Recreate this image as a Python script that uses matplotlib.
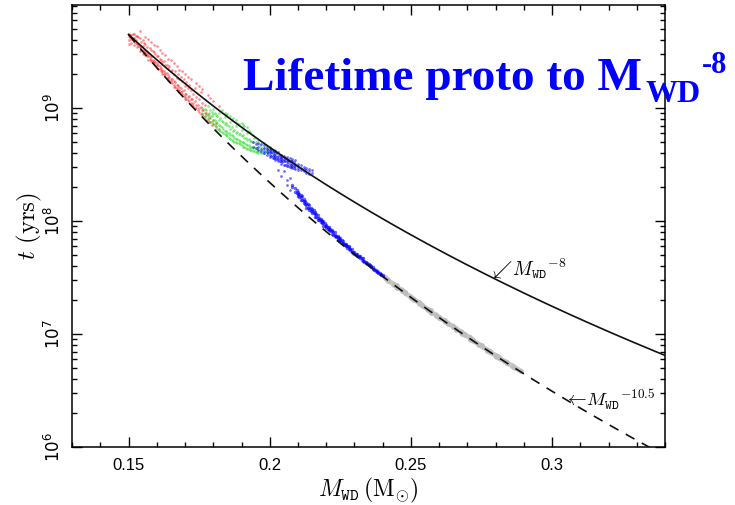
import matplotlib
matplotlib.use('Agg')
import matplotlib.pyplot as plt
from matplotlib.ticker import FixedLocator, LogLocator, NullFormatter
import numpy as np

# scatter of simulated proto-WD lifetimes: (mass, [log10 t ...])
red_cols = [
    (0.150, [9.64, 9.60, 9.66, 9.57]), (0.151, [9.61, 9.58, 9.65]),
    (0.152, [9.59, 9.62, 9.66, 9.56]), (0.153, [9.57, 9.54, 9.64]),
    (0.154, [9.54, 9.55, 9.62, 9.68, 9.51]), (0.155, [9.52, 9.48, 9.60, 9.55]),
    (0.156, [9.49, 9.50, 9.57, 9.63, 9.47]), (0.157, [9.46, 9.48, 9.61, 9.43]),
    (0.158, [9.43, 9.45, 9.52, 9.59, 9.42]), (0.159, [9.40, 9.42, 9.50, 9.56]),
    (0.160, [9.38, 9.40, 9.46, 9.55, 9.36]), (0.161, [9.35, 9.37, 9.44, 9.52]),
    (0.162, [9.32, 9.34, 9.41, 9.49, 9.30]), (0.163, [9.29, 9.31, 9.38, 9.47]),
    (0.164, [9.27, 9.29, 9.36, 9.44, 9.25]), (0.165, [9.24, 9.26, 9.33, 9.43]),
    (0.166, [9.21, 9.24, 9.30, 9.40, 9.19]), (0.167, [9.18, 9.21, 9.27, 9.37]),
    (0.168, [9.16, 9.19, 9.26, 9.34, 9.14]), (0.169, [9.13, 9.15, 9.24, 9.33]),
    (0.170, [9.10, 9.13, 9.20, 9.30, 9.08]), (0.171, [9.07, 9.10, 9.18, 9.28]),
    (0.172, [9.05, 9.08, 9.16, 9.26]), (0.173, [9.02, 9.05, 9.13]),
    (0.174, [9.00, 9.03, 9.10, 9.22]), (0.175, [8.97, 9.00, 9.08, 9.20]),
    (0.176, [8.95, 8.98, 9.05, 9.17]), (0.177, [8.92, 8.96, 9.03]),
    (0.178, [8.90, 8.94, 9.12]), (0.179, [8.88, 8.91, 9.09]),
    (0.180, [8.86, 8.90, 9.06]), (0.181, [8.84, 8.87]), (0.182, [8.82, 9.02]),
    (0.1505, [9.63, 9.65]), (0.1515, [9.60, 9.62, 9.66]),
    (0.1525, [9.58, 9.60, 9.64]), (0.1535, [9.55, 9.57, 9.63]),
    (0.1545, [9.52, 9.54, 9.59]), (0.1555, [9.49, 9.51, 9.58]),
    (0.1565, [9.46, 9.49, 9.54]), (0.1575, [9.44, 9.46, 9.53]),
    (0.1585, [9.41, 9.43, 9.51]), (0.1595, [9.38, 9.41, 9.48]),
    (0.1605, [9.35, 9.38, 9.46]), (0.1615, [9.33, 9.36, 9.43]),
    (0.1625, [9.30, 9.33, 9.42]), (0.1635, [9.27, 9.31, 9.38]),
    (0.1645, [9.24, 9.28, 9.37]), (0.1655, [9.22, 9.26, 9.34]),
    (0.1665, [9.19, 9.23, 9.33]), (0.1675, [9.16, 9.21, 9.30]),
    (0.1685, [9.14, 9.18, 9.28]), (0.1695, [9.11, 9.16, 9.26]),
    (0.1705, [9.08, 9.13, 9.23]), (0.1715, [9.06, 9.11, 9.21]),
    (0.1725, [9.03, 9.08]), (0.1735, [9.00, 9.06, 9.18]),
    (0.1745, [8.98, 9.03]), (0.1755, [8.95, 9.01, 9.14]),
    (0.1765, [8.93, 8.98]), (0.1775, [8.90, 8.96]),
    (0.1785, [8.88]), (0.1795, [8.85]),
]

green_cols = [
    (0.176, [8.96, 9.00]), (0.177, [8.93, 8.99]), (0.178, [8.91, 8.95, 9.02]),
    (0.179, [8.88, 8.93, 8.98]), (0.180, [8.86, 8.90, 8.95, 8.99]),
    (0.181, [8.83, 8.88, 8.94]), (0.182, [8.81, 8.85, 8.90, 8.96]),
    (0.183, [8.79, 8.83, 8.89, 8.98]), (0.184, [8.77, 8.80, 8.86, 8.92, 8.96]),
    (0.185, [8.75, 8.78, 8.85, 8.95]), (0.186, [8.73, 8.76, 8.82, 8.88, 8.93]),
    (0.187, [8.71, 8.75, 8.80, 8.91]), (0.188, [8.70, 8.73, 8.78, 8.84, 8.90]),
    (0.189, [8.69, 8.72, 8.77, 8.86]), (0.190, [8.67, 8.70, 8.75, 8.81, 8.87]),
    (0.191, [8.66, 8.69, 8.74, 8.84]), (0.192, [8.64, 8.67, 8.72, 8.78, 8.83]),
    (0.193, [8.63, 8.66, 8.71, 8.79]), (0.194, [8.62, 8.65, 8.70, 8.76]),
    (0.195, [8.61, 8.64, 8.70]), (0.196, [8.60, 8.63, 8.68, 8.72]),
    (0.197, [8.60, 8.66]), (0.198, [8.60, 8.65, 8.69]),
    (0.199, [8.61, 8.64]), (0.200, [8.61, 8.66]), (0.202, [8.59, 8.63]),
    (0.1775, [8.94, 8.98]), (0.1785, [8.91, 8.96]), (0.1795, [8.88, 8.93, 8.97]),
    (0.1805, [8.85, 8.90, 8.96]), (0.1815, [8.82, 8.87, 8.93]),
    (0.1825, [8.80, 8.84, 8.91]), (0.1835, [8.78, 8.82, 8.88]),
    (0.1845, [8.76, 8.80, 8.87, 8.94]), (0.1855, [8.74, 8.78, 8.84]),
    (0.1865, [8.72, 8.76, 8.83, 8.90]), (0.1875, [8.70, 8.74, 8.81]),
    (0.1885, [8.69, 8.73, 8.79, 8.87]), (0.1895, [8.68, 8.71, 8.77]),
    (0.1905, [8.66, 8.70, 8.76, 8.85]), (0.1915, [8.65, 8.68, 8.74]),
    (0.1925, [8.64, 8.67, 8.73, 8.80]), (0.1935, [8.63, 8.66, 8.71]),
    (0.1945, [8.62, 8.66, 8.74]), (0.1955, [8.61, 8.65]),
    (0.1965, [8.61, 8.67]), (0.1975, [8.60, 8.64]), (0.1985, [8.62, 8.67]),
    (0.2005, [8.60, 8.64]), (0.201, [8.62]),
]

blue_upper_cols = [
    (0.194, [8.66, 8.70]), (0.195, [8.65, 8.68]), (0.196, [8.63, 8.66, 8.69]),
    (0.197, [8.62, 8.64, 8.68]), (0.198, [8.60, 8.62, 8.65, 8.67]),
    (0.199, [8.59, 8.61, 8.64, 8.66]), (0.200, [8.57, 8.59, 8.61, 8.63, 8.65]),
    (0.201, [8.56, 8.58, 8.60, 8.63]), (0.202, [8.54, 8.56, 8.58, 8.60, 8.62]),
    (0.203, [8.53, 8.55, 8.58, 8.61, 8.45]), (0.204, [8.51, 8.53, 8.55, 8.57, 8.59, 8.40]),
    (0.205, [8.50, 8.53, 8.55, 8.58, 8.44]), (0.206, [8.49, 8.51, 8.53, 8.55, 8.57, 8.36, 8.32]),
    (0.207, [8.48, 8.51, 8.53, 8.56, 8.38, 8.28]), (0.208, [8.47, 8.49, 8.51, 8.53, 8.55]),
    (0.209, [8.46, 8.49, 8.51, 8.54]), (0.210, [8.45, 8.47, 8.49, 8.51]),
    (0.211, [8.45, 8.47, 8.50]), (0.212, [8.44, 8.46, 8.48]),
    (0.213, [8.43, 8.45, 8.47]), (0.214, [8.42, 8.44, 8.46]), (0.215, [8.43, 8.45]),
    (0.1995, [8.60, 8.63]), (0.2005, [8.58, 8.61, 8.64]), (0.2015, [8.56, 8.59, 8.62]),
    (0.2025, [8.55, 8.57, 8.60]), (0.2035, [8.53, 8.56, 8.59]),
    (0.2045, [8.52, 8.54, 8.57]), (0.2055, [8.50, 8.53, 8.56]),
    (0.2065, [8.49, 8.52, 8.54]), (0.2075, [8.48, 8.50, 8.53]),
    (0.2085, [8.47, 8.49, 8.52]),
]

blue_lower_cols = [
    (0.208, [8.30, 8.32]), (0.209, [8.26, 8.29]), (0.210, [8.22, 8.24, 8.26]),
    (0.211, [8.19, 8.21, 8.23]), (0.212, [8.16, 8.18, 8.20]),
    (0.213, [8.12, 8.14, 8.16]), (0.214, [8.10, 8.12, 8.14]),
    (0.215, [8.07, 8.09, 8.11]), (0.216, [8.04, 8.06, 8.08]),
    (0.217, [8.01, 8.03, 8.05]), (0.218, [7.99, 8.01, 8.02]), (0.219, [7.96, 7.98, 8.00]),
    (0.220, [7.94, 7.96, 7.97]), (0.221, [7.92, 7.93, 7.95]), (0.222, [7.89, 7.91, 7.92]),
    (0.223, [7.87, 7.88, 7.90]), (0.224, [7.84, 7.86, 7.87]), (0.225, [7.82, 7.83, 7.85]),
    (0.226, [7.80, 7.81, 7.82]), (0.227, [7.78, 7.79, 7.80]), (0.228, [7.75, 7.77, 7.78]),
    (0.229, [7.73, 7.75]), (0.230, [7.71, 7.73]), (0.231, [7.69, 7.71]),
    (0.232, [7.67, 7.69]), (0.233, [7.65, 7.67]), (0.234, [7.63, 7.64]),
    (0.235, [7.61, 7.62]), (0.236, [7.59, 7.60]), (0.237, [7.57, 7.58]),
    (0.238, [7.55, 7.56]), (0.239, [7.53, 7.54]), (0.240, [7.51, 7.52]),
    (0.2095, [8.25, 8.28]), (0.2105, [8.21, 8.24]), (0.2115, [8.19, 8.22]),
    (0.2125, [8.15, 8.18]), (0.2135, [8.12, 8.15]), (0.2145, [8.09, 8.12]),
    (0.2155, [8.07, 8.10]), (0.2165, [8.04, 8.06]), (0.2175, [8.01, 8.03]),
    (0.2185, [7.98, 8.00]), (0.2195, [7.96, 7.98]), (0.2205, [7.93, 7.95]),
    (0.2215, [7.91, 7.93]), (0.2225, [7.88, 7.90]), (0.2235, [7.86, 7.87]),
    (0.2245, [7.83, 7.85]), (0.2255, [7.81, 7.83]), (0.2265, [7.79, 7.80]),
    (0.2275, [7.76, 7.78]), (0.2285, [7.74, 7.75]), (0.2295, [7.72, 7.73]),
    (0.2305, [7.70, 7.71]), (0.2315, [7.68, 7.69]), (0.2325, [7.66, 7.67]),
    (0.2335, [7.64, 7.65]), (0.2345, [7.62, 7.63]), (0.2355, [7.60, 7.61]),
    (0.2365, [7.58, 7.59]), (0.2375, [7.56, 7.57]), (0.2385, [7.54, 7.55]),
    (0.2395, [7.52, 7.53]),
]

grey_cols = [
    (0.241, [7.50, 7.49]), (0.242, [7.48, 7.47]), (0.244, [7.44, 7.43]),
    (0.245, [7.43, 7.41]), (0.247, [7.39, 7.38]), (0.248, [7.37, 7.36]),
    (0.250, [7.33, 7.32]), (0.251, [7.31, 7.30]), (0.253, [7.28, 7.27]),
    (0.254, [7.26, 7.25]), (0.256, [7.22, 7.21]), (0.257, [7.21, 7.19]),
    (0.259, [7.17, 7.16]), (0.260, [7.15, 7.14]), (0.262, [7.12, 7.11]),
    (0.263, [7.10, 7.09]), (0.265, [7.07, 7.06]), (0.266, [7.05, 7.04]),
    (0.268, [7.02, 7.00]), (0.269, [7.00, 6.99]), (0.271, [6.97, 6.95]),
    (0.272, [6.95, 6.94]), (0.274, [6.91, 6.90]), (0.275, [6.90, 6.89]),
    (0.277, [6.86, 6.85]), (0.278, [6.85, 6.84]), (0.280, [6.81, 6.80]),
    (0.281, [6.80, 6.79]), (0.283, [6.76, 6.76]), (0.284, [6.75, 6.74]),
    (0.286, [6.72, 6.71]), (0.287, [6.70]), (0.289, [6.67]),
]

# power-law guides t = t0 (M / 0.15)^n
m_ref = 0.15
t_ref = 4.5e9
slopes = [-8.0, -10.5]

x_ticks = [0.15, 0.2, 0.25, 0.3]
x_tick_labels = ['0.15', '0.2', '0.25', '0.3']
y_ticks = [1e6, 1e7, 1e8, 1e9]
y_tick_labels = [r'$10^{6}$', r'$10^{7}$', r'$10^{8}$', r'$10^{9}$']


def expand(cols):
    xs, ys = [], []
    for m, logs in cols:
        for lt in logs:
            xs.append(m)
            ys.append(10 ** lt)
    return xs, ys


def plot_lifetimes():
    plt.rcParams['mathtext.fontset'] = 'cm'
    fig = plt.figure(figsize=(7.35, 5.05), dpi=100)
    ax = fig.add_axes([0.098, 0.115, 0.807, 0.875])

    # grey points sit so tightly on the dashed line that they read as a band
    gx, gy = expand(grey_cols)
    ax.plot(gx, gy, color='#c8c8c8', lw=3.5, solid_capstyle='round', zorder=2)
    ax.scatter(gx, gy, s=10, c='#bdbdbd', linewidths=0, zorder=2)

    for cols, color, size, alpha in [(red_cols, '#ff3030', 3.5, 0.55),
                                     (green_cols, '#30e030', 3.5, 0.6),
                                     (blue_upper_cols, '#0000ff', 4, 0.55),
                                     (blue_lower_cols, '#0000ff', 6, 0.6)]:
        xs, ys = expand(cols)
        ax.scatter(xs, ys, s=size, c=color, alpha=alpha, linewidths=0, zorder=2)

    m = np.linspace(m_ref, 0.34, 200)
    ax.plot(m, t_ref * (m / m_ref) ** slopes[0], color='#111111', lw=1.2, zorder=3)
    ax.plot(m, t_ref * (m / m_ref) ** slopes[1], color='#111111', lw=1.2,
            dashes=(6, 5), zorder=3)

    ax.set_yscale('log')
    ax.set_xlim(0.13, 0.34)
    ax.set_ylim(1e6, 8.2e9)

    ax.xaxis.set_major_locator(FixedLocator(x_ticks))
    ax.set_xticklabels(x_tick_labels, fontfamily='Liberation Sans', fontsize=12)
    ax.xaxis.set_minor_locator(FixedLocator(np.arange(0.13, 0.345, 0.01)))
    ax.yaxis.set_major_locator(FixedLocator(y_ticks))
    ax.yaxis.set_minor_locator(LogLocator(base=10, subs=np.arange(2, 10), numticks=20))
    ax.yaxis.set_minor_formatter(NullFormatter())
    ax.set_yticklabels(y_tick_labels, fontsize=12, rotation=90, va='center')
    for lab in ax.get_yticklabels():
        lab.set_math_fontfamily('dejavusans')

    ax.tick_params(which='both', direction='in', top=True, right=True, width=1.0)
    ax.tick_params(which='major', length=7)
    ax.tick_params(which='minor', length=3.5)
    ax.tick_params(axis='y', pad=6)
    ax.tick_params(axis='x', pad=8)
    for s in ax.spines.values():
        s.set_linewidth(1.1)

    ax.set_xlabel(r'$M_{\mathtt{WD}}\,(\mathrm{M}_{\odot})$', fontsize=17, labelpad=2)
    ax.set_ylabel(r'$t\ (\mathrm{yrs})$', fontsize=18, labelpad=0)

    ax.text(0.2775, 3.8e7, r'$\swarrow\!M_{\mathtt{WD}}{}^{-8}$', fontsize=14,
            ha='left', va='center')
    ax.text(0.3043, 2.6e6, r'$\leftarrow\!M_{\mathtt{WD}}{}^{-10.5}$', fontsize=13.5,
            ha='left', va='center')

    title_kw = dict(color='#0000ff', fontfamily='Liberation Serif',
                    fontweight='bold', va='baseline', ha='left')
    fig.text(243 / 735, 1 - 90 / 505, 'Lifetime proto to M', fontsize=34, **title_kw)
    fig.text(645 / 735, 1 - 102 / 505, 'WD', fontsize=23, **title_kw)
    fig.text(702 / 735, 1 - 73 / 505, '-8', fontsize=22, **title_kw)

    fig.savefig('out.png', dpi=100)


if __name__ == "__main__":
    plot_lifetimes()
